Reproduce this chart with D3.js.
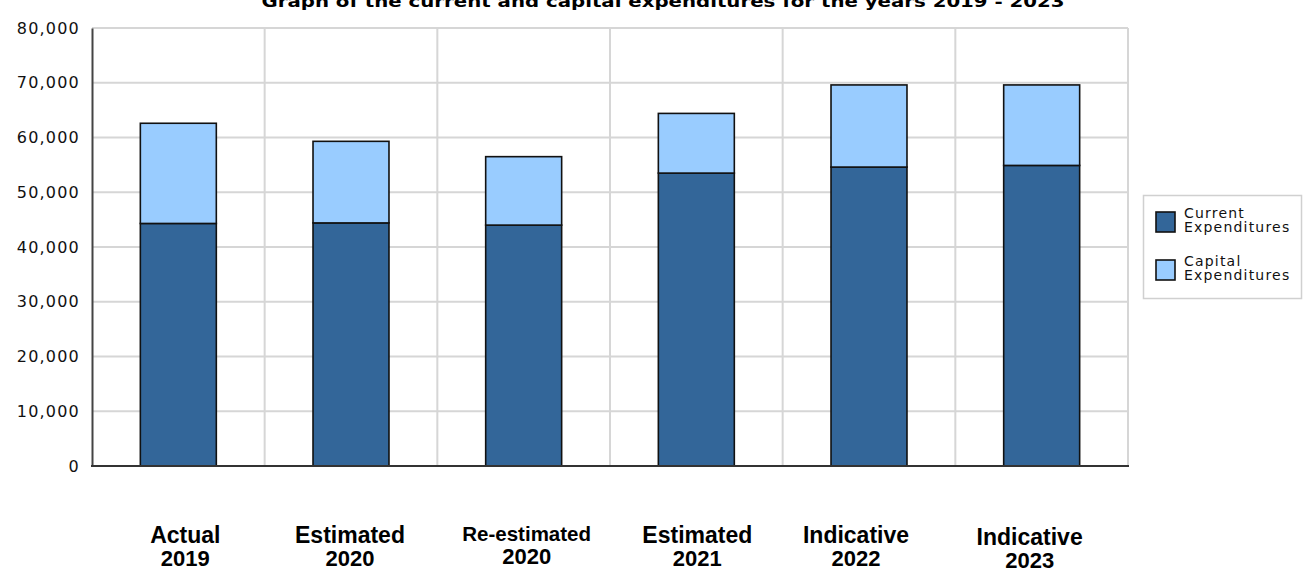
<!DOCTYPE html>
<html>
<head>
<meta charset="utf-8">
<script src="https://cdn.jsdelivr.net/npm/d3@7"></script>
<style>
  html, body { margin: 0; padding: 0; background: #fff; overflow: hidden; }
  svg { display: block; }
</style>
</head>
<body>
<svg id="chart" width="1307" height="572"></svg>
<script>
// ---- data ----
const titleText = "Graph of the current and capital expenditures for the years 2019 - 2023";
const categoryLine1 = ["Actual", "Estimated", "Re-estimated", "Estimated", "Indicative", "Indicative"];
const categoryLine2 = ["2019", "2020", "2020", "2021", "2022", "2023"];
const currentExpenditures = [44300, 44400, 44000, 53500, 54600, 54900];
const capitalExpenditures = [18300, 14900, 12500, 10900, 15000, 14700];
const seriesNames = [["Current", "Expenditures"], ["Capital", "Expenditures"]];
const yTicks = [0, 10000, 20000, 30000, 40000, 50000, 60000, 70000, 80000];

// ---- layout ----
const W = 1307, H = 572;
const plot = { left: 92, right: 1128, top: 28, bottom: 466 };
const colors = ["#336699", "#99ccff"];
// small label nudges (layout only)
const labelDx = [7, -1, 3, 1, -13, -12];
const labelDy = [0, 0, -2, 0, 0, 2];
const labelSize = [23, 23, 20.5, 23, 23, 23];

const svg = d3.select("#chart");

const x = d3.scaleBand()
  .domain(d3.range(categoryLine1.length))
  .range([plot.left, plot.right])
  .paddingInner(0).paddingOuter(0);
const y = d3.scaleLinear().domain([0, 80000]).range([plot.bottom, plot.top]);

// horizontal grid
svg.append("g").selectAll("line").data(yTicks).join("line")
  .attr("x1", plot.left).attr("x2", plot.right)
  .attr("y1", d => y(d)).attr("y2", d => y(d))
  .attr("stroke", "#d6d6d6").attr("stroke-width", 2);

// vertical grid (band boundaries)
const vlines = d3.range(1, categoryLine1.length + 1).map(i => i < categoryLine1.length ? x(i) : plot.right);
svg.append("g").selectAll("line").data(vlines).join("line")
  .attr("x1", d => d).attr("x2", d => d)
  .attr("y1", plot.top).attr("y2", plot.bottom)
  .attr("stroke", "#d6d6d6").attr("stroke-width", 2);

// stacked data
const rows = categoryLine1.map((c, i) => ({ i, cur: currentExpenditures[i], cap: capitalExpenditures[i] }));
const stack = d3.stack().keys(["cur", "cap"])(rows);

const barW = x.bandwidth() * 0.44;
svg.append("g").selectAll("g").data(stack).join("g")
  .attr("fill", (d, k) => colors[k])
  .selectAll("rect").data(d => d).join("rect")
  .attr("x", d => x(d.data.i) + (x.bandwidth() - barW) / 2)
  .attr("width", barW)
  .attr("y", d => y(d[1]))
  .attr("height", d => y(d[0]) - y(d[1]))
  .attr("stroke", "#111").attr("stroke-width", 1.6);

// axes
const yAxis = d3.axisLeft(y).tickValues(yTicks).tickSize(0).tickPadding(12)
  .tickFormat(d3.format(","));
const gy = svg.append("g").attr("transform", `translate(${plot.left},0)`).call(yAxis);
gy.select(".domain").attr("stroke", "#444").attr("stroke-width", 2);
gy.selectAll("text")
  .attr("font-family", "DejaVu Sans, Verdana, sans-serif")
  .attr("font-size", 16).attr("fill", "#111")
  .attr("letter-spacing", 1.2);

svg.append("line")
  .attr("x1", plot.left - 1).attr("x2", plot.right + 1)
  .attr("y1", plot.bottom).attr("y2", plot.bottom)
  .attr("stroke", "#333").attr("stroke-width", 2.2);

// category labels
const lab = svg.append("g").attr("font-family", "Liberation Sans, Arial, sans-serif")
  .attr("font-weight", "bold").attr("fill", "#000").attr("text-anchor", "middle");
categoryLine1.forEach((c, i) => {
  const cx = x(i) + x.bandwidth() / 2 + labelDx[i];
  lab.append("text").attr("x", cx).attr("y", 543 + labelDy[i])
    .attr("font-size", labelSize[i]).text(c);
  lab.append("text").attr("x", cx).attr("y", 566 + labelDy[i])
    .attr("font-size", 22).text(categoryLine2[i]);
});

// title (partially cut at top, as in the original)
svg.append("text")
  .attr("x", 663).attr("y", 7)
  .attr("text-anchor", "middle")
  .attr("font-family", "DejaVu Sans, Verdana, sans-serif")
  .attr("font-weight", "bold").attr("font-size", 16)
  .attr("textLength", 803).attr("lengthAdjust", "spacingAndGlyphs")
  .text(titleText);

// legend
const lg = svg.append("g");
lg.append("rect").attr("x", 1143.5).attr("y", 195.5).attr("width", 158).attr("height", 103)
  .attr("fill", "#fff").attr("stroke", "#d0d0d0").attr("stroke-width", 1.5);
seriesNames.forEach((nm, k) => {
  const y0 = 212 + k * 48;
  lg.append("rect").attr("x", 1156).attr("y", y0).attr("width", 19).attr("height", 20)
    .attr("fill", colors[k]).attr("stroke", "#111").attr("stroke-width", 1.6);
  nm.forEach((t, j) => {
    lg.append("text").attr("x", 1184).attr("y", y0 + 6 + j * 14)
      .attr("font-family", "DejaVu Sans, Tahoma, sans-serif")
      .attr("font-size", 14).attr("letter-spacing", 1.2)
      .attr("fill", "#111").text(t);
  });
});
</script>
</body>
</html>
